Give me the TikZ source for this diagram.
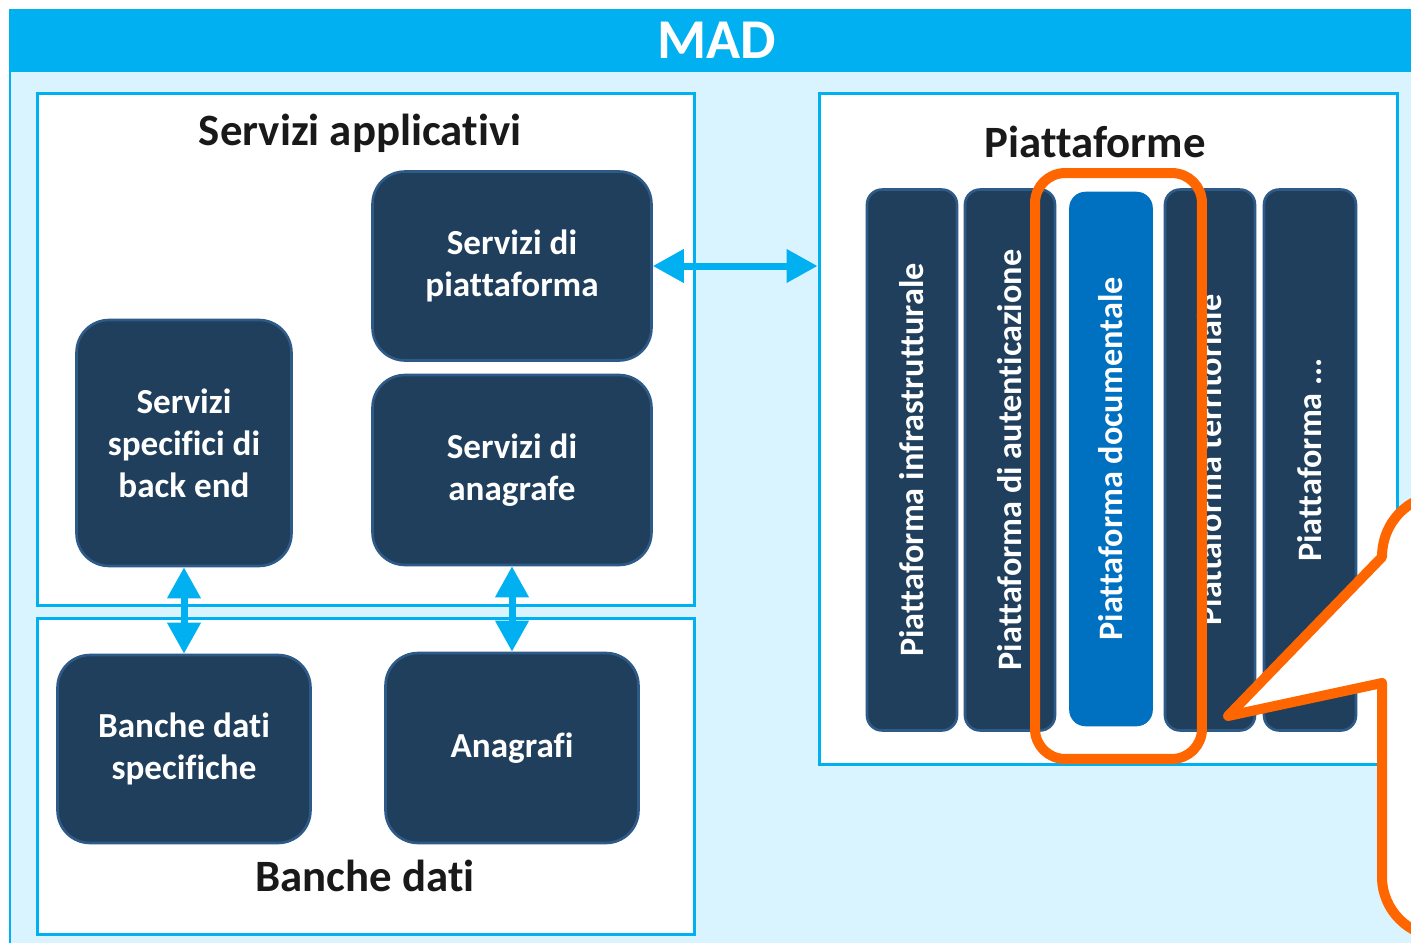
\documentclass[tikz,border=0pt]{standalone}
\usepackage{fontspec}
\setmainfont{Carlito}[Ligatures=NoCommon]
\usetikzlibrary{arrows.meta,positioning}
\definecolor{madazzurro}{RGB}{0,176,240}
\definecolor{madsfondo}{RGB}{218,244,255}
\definecolor{blocco}{RGB}{31,63,92}
\definecolor{bordoblocco}{RGB}{46,90,135}
\definecolor{documentale}{RGB}{0,112,192}
\definecolor{arancio}{RGB}{255,102,0}
\tikzset{
  riquadro/.style={draw=madazzurro, line width=1.7pt, fill=white},
  titolo/.style={font=\bfseries\fontsize{25.5}{30}\selectfont, text=black!90},
  servizio/.style={rounded corners=0.65cm, draw=bordoblocco, line width=1.5pt,
    fill=blocco, text=white, align=center,
    font=\bfseries\fontsize{20}{24}\selectfont},
  colonna/.style={servizio, rounded corners=0.3cm, rotate=90,
    minimum width=10.82cm, minimum height=1.8cm,
    font=\bfseries\fontsize{19.5}{23}\selectfont},
  freccia/.style={draw=madazzurro, line width=0.14cm,
    {Triangle[length=0.62cm,width=0.64cm]}-{Triangle[length=0.62cm,width=0.64cm]}},
  evidenzia/.style={draw=arancio, line width=0.2cm, rounded corners=0.6cm}
}

\begin{document}
\begin{tikzpicture}[x=0.02cm,y=-0.02cm]
	\useasboundingbox (0,0) rectangle (1411,943);
	\clip (0,0) rectangle (1411,943);
	\filldraw[fill=madsfondo, draw=madazzurro, line width=1.2pt] (10,10) rectangle (1440,960);
	\fill[madazzurro] (10,10) rectangle (1440,72);
	\node[text=white, font=\bfseries\fontsize{32}{36}\selectfont] (mad) at (717,40) {MAD};

	\node[riquadro, minimum width=13.16cm, minimum height=10.26cm] (servizi) at (366,349.5) {};
	\node[riquadro, minimum width=13.16cm, minimum height=6.34cm] (banche) at (366,776.5) {};
	\node[riquadro, minimum width=11.58cm, minimum height=13.44cm] (piattaforme) at (1108.5,429) {};
	\node[titolo] (tservizi) at (360,133) {Servizi applicativi};
	\node[titolo] (tbanche) at (365,876) {Banche dati};
	\node[titolo] (tpiatt) at (1095,142) {Piattaforme};

	\node[servizio, minimum width=5.58cm, minimum height=3.78cm] (spiatt) at (512,266) {Servizi di\\piattaforma};
	\node[servizio, minimum width=5.58cm, minimum height=3.8cm] (sanag) at (512,470) {Servizi di\\anagrafe};
	\node[servizio, minimum width=4.3cm, minimum height=4.92cm] (sback) at (184,443) {Servizi\\specifici di\\back end};
	\node[servizio, minimum width=5.06cm, minimum height=3.76cm] (bspec) at (184,749) {Banche dati\\specifiche};
	\node[servizio, minimum width=5.06cm, minimum height=3.8cm] (anagr) at (512,748) {Anagrafi};

	\node[colonna] (pinfra) at (912,460) {Piattaforma infrastrutturale};
	\node[colonna] (pauten) at (1010,460) {Piattaforma di autenticazione};
	\node[colonna, fill=documentale, draw=documentale, minimum width=10.64cm, minimum height=1.62cm] (pdocum) at (1111,459) {Piattaforma documentale};
	\node[colonna] (pterr) at (1210,460) {Piattaforma territoriale};
	\node[colonna, minimum height=1.84cm] (paltro) at (1310,460) {Piattaforma ...};

	\draw[freccia] (spiatt.east) -- (spiatt.east -| piattaforme.west);
	\draw[freccia] (sback.south) -- (bspec.north);
	\draw[freccia] (sanag.south) -- (anagr.north);

	\node[evidenzia, minimum width=3.34cm, minimum height=11.72cm] (selezione) at (1118.5,466) {};
	\filldraw[fill=white, draw=arancio, line width=0.2cm, line join=round]
	  (1470,495) -- (1442,495) .. controls (1409,495) and (1382,522) .. (1382,557)
	  -- (1228,716) -- (1382,683) -- (1382,877)
	  .. controls (1382,910) and (1409,937) .. (1442,937) -- (1470,937);
\end{tikzpicture}
\end{document}
